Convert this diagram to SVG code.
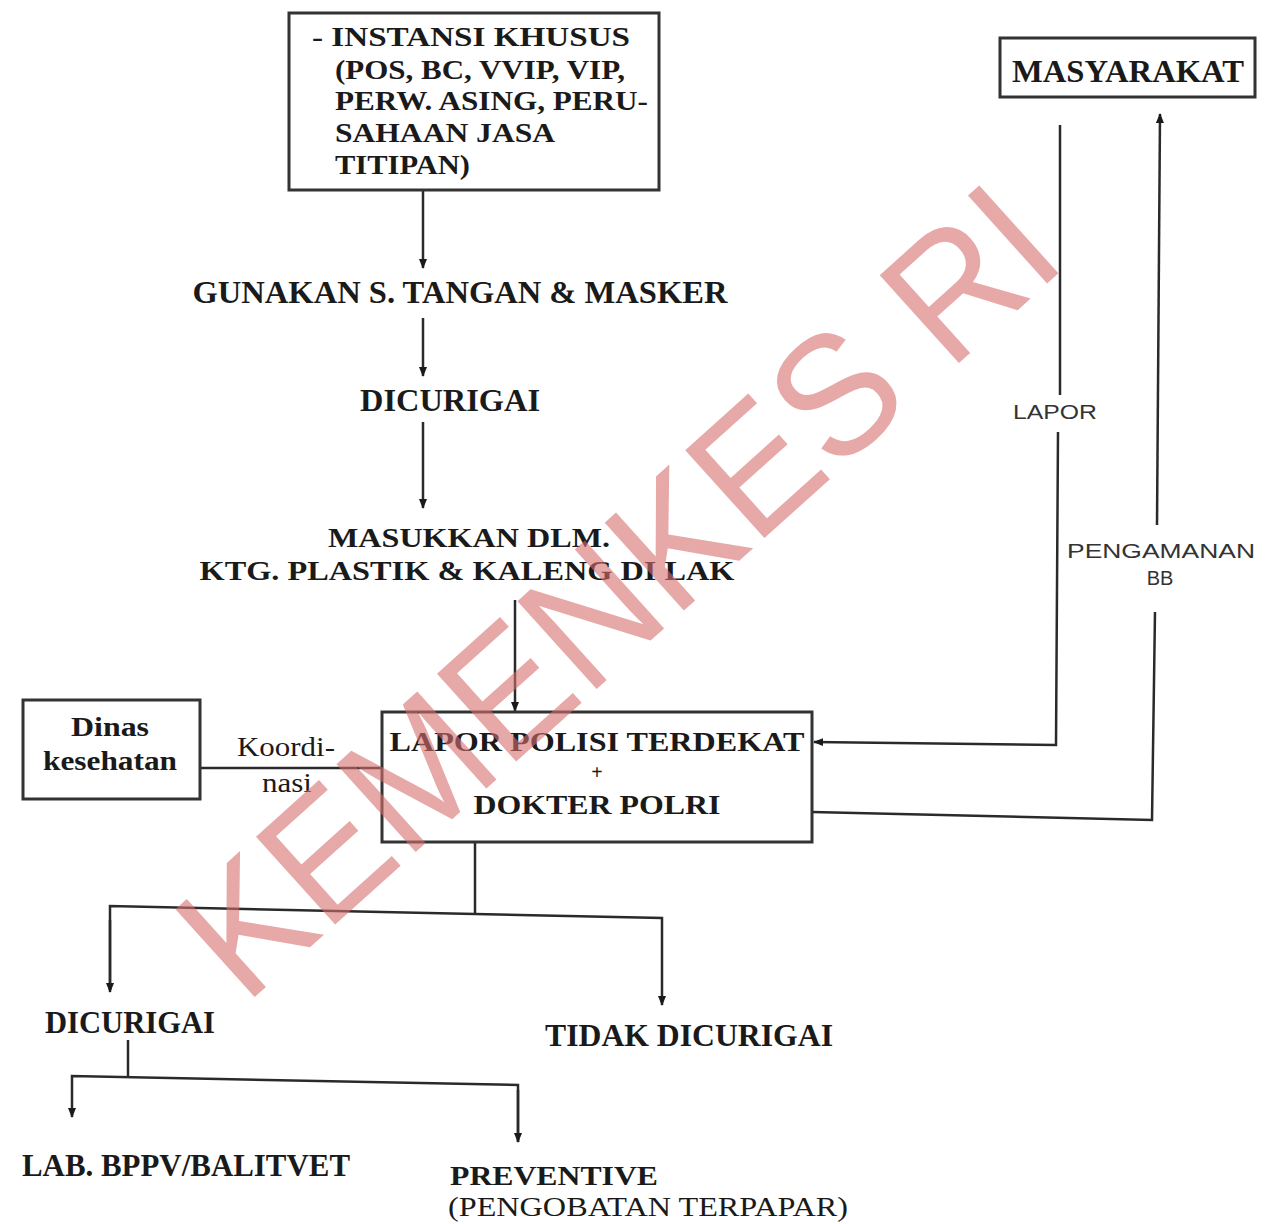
<svg xmlns="http://www.w3.org/2000/svg" width="1268" height="1224" viewBox="0 0 1268 1224">
<style>
.t{font-family:"Liberation Serif","Times New Roman",serif;font-weight:bold;fill:#1a1a1a;font-size:31px}
.m{font-size:27px}
.s{font-family:"Liberation Sans",Arial,sans-serif;fill:#333;font-size:20px}
.box{fill:none;stroke:#333;stroke-width:3}
.ln{fill:none;stroke:#2a2a2a;stroke-width:2.5}
.c{text-anchor:middle}
</style>
<defs>
<marker id="ah" viewBox="0 0 10 10" refX="9" refY="5" markerWidth="10" markerHeight="10" markerUnits="userSpaceOnUse" orient="auto">
<path d="M0,1 L10,5 L0,9 z" fill="#1a1a1a"/>
</marker>
</defs>
<rect width="1268" height="1224" fill="#fff"/>

<g id="connectors">
<line class="ln" x1="423" y1="190" x2="423" y2="268" marker-end="url(#ah)"/>
<line class="ln" x1="423" y1="318" x2="423" y2="376" marker-end="url(#ah)"/>
<line class="ln" x1="423" y1="422" x2="423" y2="508" marker-end="url(#ah)"/>
<line class="ln" x1="515" y1="600" x2="515" y2="711" marker-end="url(#ah)"/>
<line class="ln" x1="200" y1="768" x2="382" y2="768"/>
<polyline class="ln" points="1060,125 1060,395"/>
<polyline class="ln" points="1058,432 1056,745 814,742" marker-end="url(#ah)"/>
<polyline class="ln" points="812,812 1152,820 1155,612"/>
<polyline class="ln" points="1157,525 1160,114" marker-end="url(#ah)"/>
<polyline class="ln" points="475,842 475,915"/>
<polyline class="ln" points="110,990 110,906 662,918 662,1005" marker-end="url(#ah)"/>
<line class="ln" x1="110" y1="920" x2="110" y2="992" marker-end="url(#ah)"/>
<polyline class="ln" points="128,1040 128,1077"/>
<polyline class="ln" points="518,1142 518,1085 72,1076 72,1117" marker-end="url(#ah)"/>
<line class="ln" x1="518" y1="1090" x2="518" y2="1142" marker-end="url(#ah)"/>
</g>

<g id="instansi">
<rect class="box" x="289" y="13" width="370" height="177"/>
<text class="t m" x="312" y="46" textLength="318" lengthAdjust="spacingAndGlyphs">- INSTANSI KHUSUS</text>
<text class="t m" x="335" y="79" textLength="290" lengthAdjust="spacingAndGlyphs">(POS, BC, VVIP, VIP,</text>
<text class="t m" x="335" y="110" textLength="313" lengthAdjust="spacingAndGlyphs">PERW. ASING, PERU-</text>
<text class="t m" x="335" y="142" textLength="220" lengthAdjust="spacingAndGlyphs">SAHAAN JASA</text>
<text class="t m" x="335" y="174" textLength="135" lengthAdjust="spacingAndGlyphs">TITIPAN)</text>
</g>

<g id="masyarakat">
<rect class="box" x="1000" y="38" width="255" height="59"/>
<text class="t" x="1128" y="82" text-anchor="middle" textLength="232" lengthAdjust="spacingAndGlyphs">MASYARAKAT</text>
</g>

<g id="gunakan">
<text class="t c" x="460" y="303" textLength="535" lengthAdjust="spacingAndGlyphs">GUNAKAN S. TANGAN &amp; MASKER</text>
</g>

<g id="dicurigai1">
<text class="t c" x="450" y="411" textLength="180" lengthAdjust="spacingAndGlyphs">DICURIGAI</text>
</g>

<g id="masukkan">
<text class="t c m" x="469" y="547" textLength="282" lengthAdjust="spacingAndGlyphs">MASUKKAN DLM.</text>
<text class="t c m" x="467" y="580" textLength="535" lengthAdjust="spacingAndGlyphs">KTG. PLASTIK &amp; KALENG DI LAK</text>
</g>

<g id="dinas">
<rect class="box" x="23" y="700" width="177" height="99"/>
<text class="t c m" x="110" y="736" textLength="78" lengthAdjust="spacingAndGlyphs">Dinas</text>
<text class="t c m" x="110" y="770" textLength="134" lengthAdjust="spacingAndGlyphs">kesehatan</text>
</g>

<g id="koordinasi">
<text class="t m" x="237" y="756" textLength="98" lengthAdjust="spacingAndGlyphs" style="font-weight:normal">Koordi-</text>
<text class="t m" x="262" y="792" textLength="50" lengthAdjust="spacingAndGlyphs" style="font-weight:normal">nasi</text>
</g>

<g id="lapor-polisi">
<rect class="box" x="382" y="712" width="430" height="130"/>
<text class="t c m" x="597" y="751" textLength="415" lengthAdjust="spacingAndGlyphs">LAPOR POLISI TERDEKAT</text>
<text class="t c" x="597" y="779" style="font-size:20px">+</text>
<text class="t c m" x="597" y="814" textLength="247" lengthAdjust="spacingAndGlyphs">DOKTER POLRI</text>
</g>

<g id="lapor-label">
<text class="s c" x="1055" y="419" textLength="84" lengthAdjust="spacingAndGlyphs">LAPOR</text>
</g>

<g id="pengamanan-label">
<text class="s c" x="1161" y="558" textLength="188" lengthAdjust="spacingAndGlyphs">PENGAMANAN</text>
<text class="s c" x="1160" y="585">BB</text>
</g>

<g id="dicurigai2">
<text class="t" x="45" y="1033" textLength="170" lengthAdjust="spacingAndGlyphs">DICURIGAI</text>
</g>

<g id="tidak-dicurigai">
<text class="t" x="545" y="1046" textLength="288" lengthAdjust="spacingAndGlyphs">TIDAK DICURIGAI</text>
</g>

<g id="lab">
<text class="t" x="22" y="1176" textLength="328" lengthAdjust="spacingAndGlyphs">LAB. BPPV/BALITVET</text>
</g>

<g id="preventive">
<text class="t m" x="450" y="1185" textLength="208" lengthAdjust="spacingAndGlyphs">PREVENTIVE</text>
<text class="t m" x="448" y="1216" textLength="400" lengthAdjust="spacingAndGlyphs" style="font-weight:normal">(PENGOBATAN TERPAPAR)</text>
</g>

<g id="watermark">
<text x="617" y="650" transform="rotate(-42 617 590)" text-anchor="middle" font-family="Liberation Sans,Arial,sans-serif" font-size="172" fill="#d76e6e" fill-opacity="0.6" textLength="1110" lengthAdjust="spacingAndGlyphs">KEMENKES RI</text>
</g>
</svg>
